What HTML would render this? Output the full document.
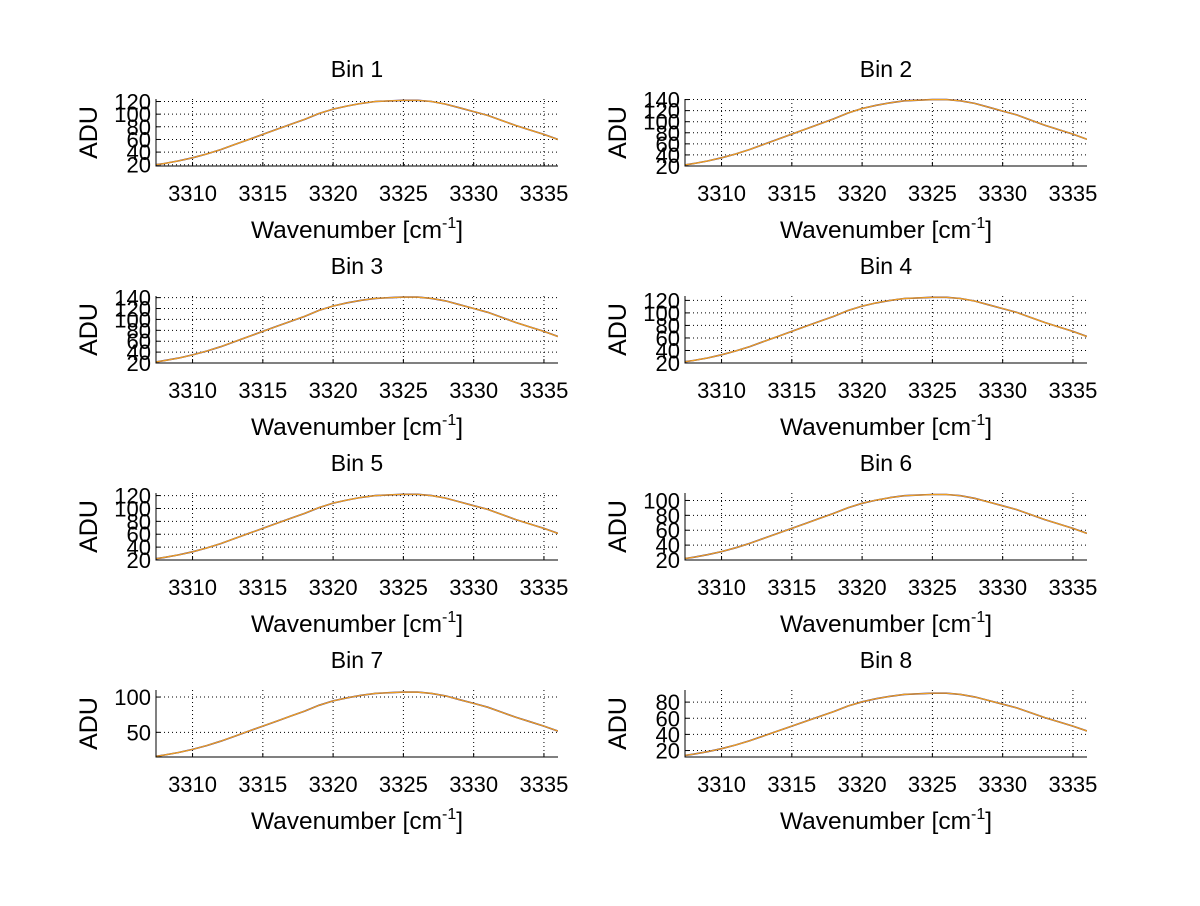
<!DOCTYPE html>
<html><head><meta charset="utf-8"><style>
body{margin:0;background:#fff}
svg text{font-family:"Liberation Sans",sans-serif;fill:#000}
</style></head><body>
<svg id="fig" width="1200" height="901" viewBox="0 0 1200 901" xmlns="http://www.w3.org/2000/svg">
<rect width="1200" height="901" fill="#fff"/>
</svg>
<script>
// shared spectral profile (read from Bin 1), x in cm^-1
const wavenumbers=[3307.4,3308,3309,3310,3311,3312,3313,3314,3315,3316,3317,3318,3319,3320,3321,3322,3323,3324,3325,3326,3327,3328,3329,3330,3331,3332,3333,3334,3335,3336];
const profile=[20,22,26,31,37,44,52,60,68,76,84,92,101,108,113,117,120,121,122,122,120,116,110,104,98,90,82,75,68,60];
const binNames=["Bin 1","Bin 2","Bin 3","Bin 4","Bin 5","Bin 6","Bin 7","Bin 8"];
const binLow=[20,22,22,22,22,22,16,14];
const binPeak=[122,140,141,125,122,108,107,91];
const yMin=[18,20,20,20,20,20,15,12];
const yMax=[124,141,143,127,124,110,110,95];
const yTicks=[[20,40,60,80,100,120],[20,40,60,80,100,120,140],[20,40,60,80,100,120,140],[20,40,60,80,100,120],[20,40,60,80,100,120],[20,40,60,80,100],[50,100],[20,40,60,80]];
const xTicks=[3310,3315,3320,3325,3330,3335];
const xMin=3307.4,xMax=3336;

const NS='http://www.w3.org/2000/svg';
const svg=document.getElementById('fig');
function mk(tag,attrs,parent){const e=document.createElementNS(NS,tag);for(const k in attrs)e.setAttribute(k,attrs[k]);(parent||svg).appendChild(e);return e;}

const colL=[156,685],W=402,rowT=[99,296,493,690],H=67;
for(let b=0;b<8;b++){
  const L=colL[b%2],T=rowT[Math.floor(b/2)],R=L+W,B=T+H;
  const g=mk('g',{});
  
  
  const cp=mk('clipPath',{id:'cp'+b},g);mk('rect',{x:L,y:T-2,width:W,height:H+2},cp);
  const sx=v=>L+(v-xMin)/(xMax-xMin)*W;
  const sy=v=>B-(v-yMin[b])/(yMax[b]-yMin[b])*H;
  xTicks.forEach(t=>{const l=mk('line',{x1:sx(t),x2:sx(t),y1:T,y2:B,stroke:'#000','stroke-width':1,'stroke-dasharray':'1,3'},g);
    
    mk('line',{x1:sx(t),x2:sx(t),y1:B,y2:B-4,stroke:'#000'},g);
    const tx=mk('text',{x:sx(t),y:B+35,'font-size':22,'text-anchor':'middle'},g);tx.textContent=t;
    });
  yTicks[b].forEach(t=>{const l=mk('line',{x1:L,x2:R,y1:sy(t),y2:sy(t),stroke:'#000','stroke-width':1,'stroke-dasharray':'1,3'},g);
    
    mk('line',{x1:L,x2:L+4,y1:sy(t),y2:sy(t),stroke:'#000'},g);
    const tx=mk('text',{x:L-5,y:sy(t)+8,'font-size':22,'text-anchor':'end'},g);tx.textContent=t;
    });
  const s0=profile[0],sp=Math.max(...profile);
  const vals=profile.map(p=>binLow[b]+(p-s0)/(sp-s0)*(binPeak[b]-binLow[b]));
  const pts=wavenumbers.map((x,i)=>sx(x).toFixed(1)+','+sy(vals[i]).toFixed(1)).join(' ');
  const p1=mk('polyline',{points:pts,fill:'none',stroke:'#402a70','stroke-width':1.6,'clip-path':`url(#cp${b})`},g);
  
  const p2=mk('polyline',{points:pts,fill:'none',stroke:'#f0a020','stroke-width':1.2,'clip-path':`url(#cp${b})`},g);
  
  const ax=mk('path',{d:`M${L},${T} L${L},${B} L${R},${B}`,fill:'none',stroke:'#000','stroke-width':1},g);
  
  const ti=mk('text',{x:L+W/2,y:T-22,'font-size':23,'text-anchor':'middle'},g);ti.textContent=binNames[b];
  
  const xl=mk('text',{x:L+W/2,y:B+72,'font-size':24.5,'text-anchor':'middle'},g);
  
  xl.innerHTML='Wavenumber [cm<tspan dy="-10" font-size="16">-1</tspan><tspan dy="10">]</tspan>';
  const yl=mk('text',{x:0,y:0,'font-size':25,'text-anchor':'middle',transform:`translate(${L-59},${T+H/2}) rotate(-90)`},g);
  yl.textContent='ADU';
  
}
</script>
</body></html>
